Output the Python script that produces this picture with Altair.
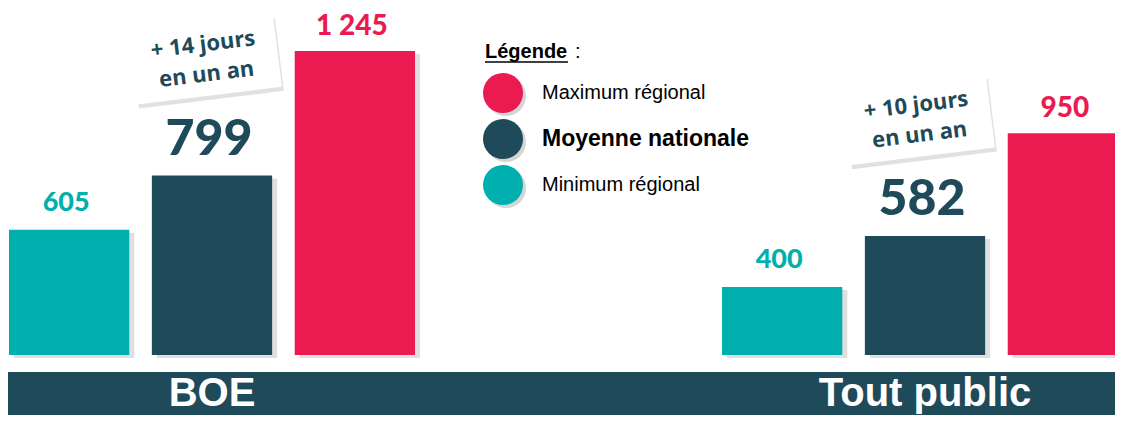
import altair as alt
import pandas as pd

# ---------------- data ----------------
groups = ["BOE", "Tout public"]
series = ["Minimum régional", "Moyenne nationale", "Maximum régional"]
boe_values = [605, 799, 1245]
tout_public_values = [400, 582, 950]
annotations = ["+ 14 jours\nen un an", "+ 10 jours\nen un an"]
legend_order = ["Maximum régional", "Moyenne nationale", "Minimum régional"]
colors = ["#00B0AE", "#1E4A5A", "#EB1A50"]

BASE = 156  # value at which the bars are cut (the scale does not start at zero)

rows = []
for g, vals in zip(groups, [boe_values, tout_public_values]):
    for s, v in zip(series, vals):
        rows.append({"group": g, "series": s, "value": v,
                     "label": f"{v:,}".replace(",", " ")})
df = pd.DataFrame(rows)

ann = df[df["series"] == "Moyenne nationale"].copy()
ann["note"] = annotations

legend_df = pd.DataFrame({"series": legend_order})
banner_df = pd.DataFrame({"group": groups})
title_df = pd.DataFrame({"t": ["Légende"]})

DARK = colors[1]
W, H = 1107, 407

# ---------------- scales ----------------
X = alt.X("group:N", axis=None,
          scale=alt.Scale(domain=groups, range=[1, 1120],
                          paddingInner=0.4306, paddingOuter=0))
XO = alt.XOffset("series:N",
                 scale=alt.Scale(type="band", domain=series, range=[0, 406],
                                 paddingInner=0.158, paddingOuter=0))
XO_SHADOW = alt.XOffset("series:N",
                        scale=alt.Scale(type="band", domain=series, range=[5, 411],
                                        paddingInner=0.158, paddingOuter=0))
YS = alt.Scale(domain=[BASE, max(boe_values + tout_public_values)],
               range=[347, 43], nice=False, zero=False)
Y = alt.Y("value:Q", axis=None, scale=YS)
C = alt.Color("series:N", scale=alt.Scale(domain=series, range=colors), legend=None)
LY = alt.Y("series:N", axis=None,
           scale=alt.Scale(domain=legend_order, range=[85, 177], padding=0))

# ---------------- layers ----------------
banner = alt.Chart(banner_df.head(1)).mark_rect(color=DARK).encode(
    x=alt.value(0), x2=alt.value(W), y=alt.value(364), y2=alt.value(H))

banner_text = alt.Chart(banner_df).mark_text(
    font="Liberation Sans", fontWeight="bold", fontSize=40,
    color="white", baseline="alphabetic").encode(
    x=X, y=alt.value(398), text="group:N")

bar_shadow = alt.Chart(df).mark_bar(
    color="#b8b8b8", opacity=0.45, yOffset=3, y2Offset=3).encode(
    x=X, xOffset=XO_SHADOW, y=Y, y2=alt.datum(BASE))

bars = alt.Chart(df).mark_bar().encode(
    x=X, xOffset=XO, y=Y, y2=alt.datum(BASE), color=C)


def value_labels(name, size, dy):
    return alt.Chart(df).transform_filter(alt.datum.series == name).mark_text(
        font="Lato", fontWeight=900, baseline="alphabetic", dy=dy, dx=-3,
        fontSize=size).encode(
        x=X, xOffset=XO, y=Y, text="label:N", color=C)


lab_min = value_labels("Minimum régional", 27, -19)
lab_moy = value_labels("Moyenne nationale", 50, -21)
lab_max = value_labels("Maximum régional", 28, -16)

BOX = "M-1,-0.5L1,-0.5L1,0.5L-1,0.5Z"
box_shadow = alt.Chart(ann).mark_point(
    shape=BOX, size=21300, filled=True, fill="#9a9a9a", opacity=0.3,
    strokeWidth=0, angle=353, xOffset=-5, yOffset=-112).encode(x=X, y=Y)
box = alt.Chart(ann).mark_point(
    shape=BOX, size=21300, filled=True, fill="white", opacity=1,
    strokeWidth=0, angle=353, xOffset=-7, yOffset=-116).encode(x=X, y=Y)
box_text = alt.Chart(ann).mark_text(
    lineBreak="\n", angle=353, font="Open Sans", fontWeight="bold", fontSize=22,
    lineHeight=30, color=DARK, baseline="middle",
    xOffset=-9, yOffset=-131).encode(x=X, y=Y, text="note:N")

leg_shadow = alt.Chart(legend_df).mark_circle(
    size=1600, color="#888888", opacity=0.35, xOffset=3, yOffset=3).encode(
    x=alt.value(495), y=LY)
leg_circ = alt.Chart(legend_df).mark_circle(size=1600, opacity=1).encode(
    x=alt.value(495), y=LY, color=C)
leg_text = alt.Chart(legend_df).transform_filter(
    alt.datum.series != "Moyenne nationale").mark_text(
    font="Liberation Sans", fontSize=20, align="left", baseline="middle",
    color="black").encode(x=alt.value(534), y=LY, text="series:N")
leg_text_bold = alt.Chart(legend_df).transform_filter(
    alt.datum.series == "Moyenne nationale").mark_text(
    font="Liberation Sans", fontSize=23, fontWeight="bold", align="left",
    baseline="middle", color="black").encode(x=alt.value(534), y=LY, text="series:N")

leg_title = alt.Chart(title_df).mark_text(
    font="Liberation Sans", fontSize=20, fontWeight="bold", align="left",
    baseline="alphabetic", color="black").encode(
    x=alt.value(477), y=alt.value(50), text="t:N")
leg_colon = alt.Chart(title_df).mark_text(
    font="Liberation Sans", fontSize=20, align="left",
    baseline="alphabetic", color="black").encode(
    x=alt.value(567), y=alt.value(50), text=alt.value(":"))
leg_underline = alt.Chart(title_df).mark_rule(color="black", strokeWidth=1.6).encode(
    x=alt.value(477), x2=alt.value(560), y=alt.value(54))

chart = alt.layer(
    banner, bar_shadow, bars, lab_min, lab_moy, lab_max,
    box_shadow, box, box_text,
    leg_shadow, leg_circ, leg_text, leg_text_bold,
    leg_title, leg_colon, leg_underline, banner_text,
).resolve_scale(y="independent", xOffset="independent").properties(
    width=W, height=H, padding=0, autosize=alt.AutoSizeParams(type="none"),
    background="white",
).configure_view(stroke=None)

chart.save("out.html", embed_options={"renderer": "svg", "actions": False})
